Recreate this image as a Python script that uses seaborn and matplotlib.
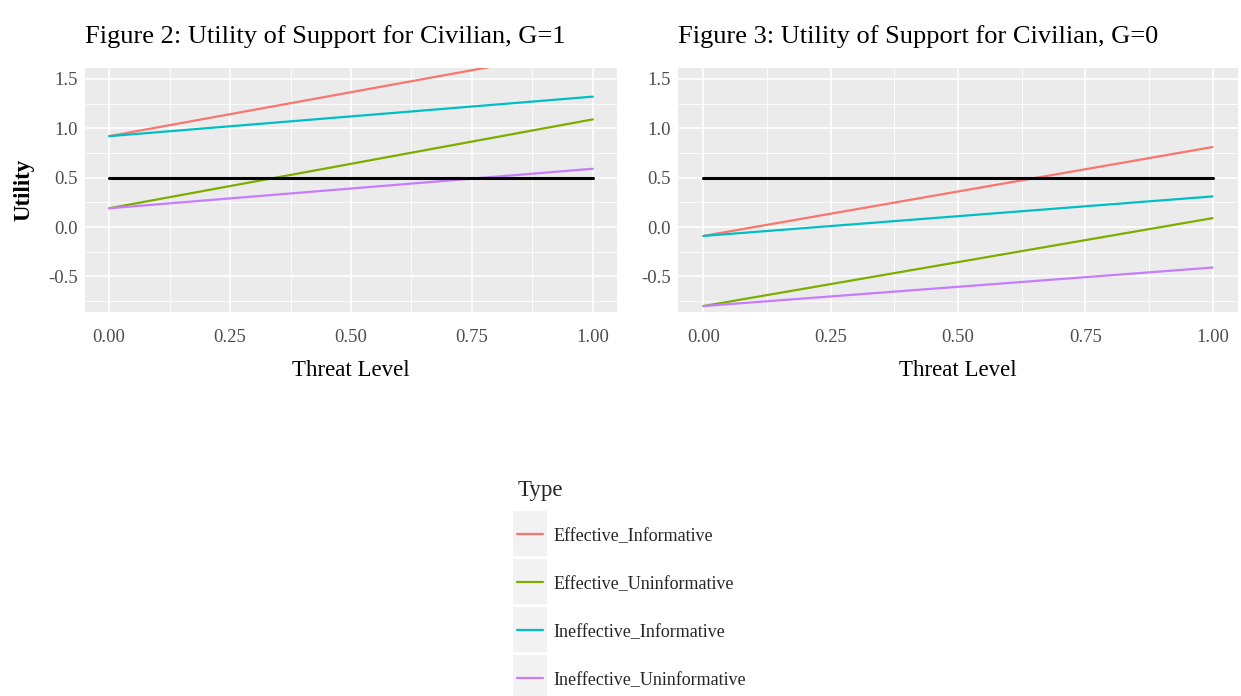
import numpy as np
import pandas as pd
import seaborn as sns
import matplotlib.pyplot as plt
from matplotlib.patches import Rectangle
from matplotlib.ticker import MultipleLocator, FormatStrFormatter

# values (line endpoints at threat 0 and 1)
threat = [0.0, 1.0]
types = ['Effective_Informative', 'Effective_Uninformative',
         'Ineffective_Informative', 'Ineffective_Uninformative']
g1_start = [0.92, 0.19, 0.92, 0.19]
g1_end = [1.81, 1.09, 1.32, 0.59]
g0_start = [-0.09, -0.80, -0.09, -0.80]
g0_end = [0.81, 0.09, 0.31, -0.41]
threshold = [0.5, 0.5]

colors = ['#F8766D', '#7CAE00', '#00BFC4', '#C77CFF']
palette = dict(zip(types, colors))


def long_df(start, end):
    rows = []
    for t, s, e in zip(types, start, end):
        rows.append({'Type': t, 'Threat Level': threat[0], 'Utility': s})
        rows.append({'Type': t, 'Threat Level': threat[1], 'Utility': e})
    return pd.DataFrame(rows)


df1 = long_df(g1_start, g1_end)
df0 = long_df(g0_start, g0_end)

sns.set_theme(style='darkgrid', rc={'axes.facecolor': '#EBEBEB',
                                    'grid.color': 'white',
                                    'axes.unicode_minus': False})
plt.rcParams['font.family'] = ['Liberation Serif', 'DejaVu Serif']

W, H = 1241, 696
fig = plt.figure(figsize=(W / 100, H / 100), dpi=100)
ax1 = fig.add_axes([85 / W, 1 - 312 / H, 532 / W, 244 / H])
ax2 = fig.add_axes([678 / W, 1 - 312 / H, 560 / W, 244 / H])

panels = [(ax1, df1, 'Figure 2: Utility of Support for Civilian, G=1'),
          (ax2, df0, 'Figure 3: Utility of Support for Civilian, G=0')]

for ax, df, title in panels:
    sns.lineplot(data=df, x='Threat Level', y='Utility', hue='Type',
                 palette=palette, hue_order=types, linewidth=1.6,
                 ax=ax, legend=(ax is ax1))
    sns.lineplot(x=threat, y=threshold, color='black', linewidth=2.2, ax=ax)
    ax.set_xlim(-0.05, 1.05)
    ax.set_ylim(-0.86, 1.61)
    ax.set_xticks([0, 0.25, 0.5, 0.75, 1.0])
    ax.set_yticks([-0.5, 0.0, 0.5, 1.0, 1.5])
    ax.xaxis.set_major_formatter(FormatStrFormatter('%.2f'))
    ax.yaxis.set_major_formatter(FormatStrFormatter('%.1f'))
    ax.xaxis.set_minor_locator(MultipleLocator(0.125))
    ax.yaxis.set_minor_locator(MultipleLocator(0.25))
    ax.grid(which='major', color='white', linewidth=1.2)
    ax.grid(which='minor', color='white', linewidth=0.6)
    ax.tick_params(which='major', length=4, width=1.3, color='#333333',
                   labelsize=13.5, labelcolor='#4D4D4D')
    ax.tick_params(axis='x', which='major', pad=8)
    ax.tick_params(axis='y', which='major', pad=1)
    ax.tick_params(which='minor', length=0)
    for sp in ax.spines.values():
        sp.set_visible(False)
    ax.set_xlabel('Threat Level', fontsize=16.5, color='black', labelpad=10)
    ax.set_ylabel('')
    ax.set_title(title, loc='left', fontsize=19, pad=18, color='black')

ax1.set_ylabel('Utility', fontsize=16.5, fontweight='bold', color='black', labelpad=10)

handles, labels = ax1.get_legend_handles_labels()
ax1.get_legend().remove()
leg = fig.legend(handles[:4], labels[:4], title='Type', loc='upper left',
                 bbox_to_anchor=(501 / W, 1 - 464 / H), frameon=False,
                 fontsize=13, title_fontsize=16.5, alignment='left',
                 handlelength=1.4, handletextpad=0.6, labelspacing=1.72)
leg._legend_box.sep = 19
for h in leg.legend_handles:
    h.set_linewidth(1.6)

# grey key boxes behind legend lines, like ggplot
fig.canvas.draw()
r = fig.canvas.get_renderer()
for h in leg.legend_handles:
    bb = h.get_window_extent(r)
    cy = (bb.y0 + bb.y1) / 2
    fig.patches.append(Rectangle(((bb.x0 - 4) / W, (cy - 22) / H), (bb.width + 8) / W, 45 / H,
                                 transform=fig.transFigure, facecolor='#F2F2F2',
                                 edgecolor='none', zorder=0))

fig.savefig('out.png', dpi=100)
